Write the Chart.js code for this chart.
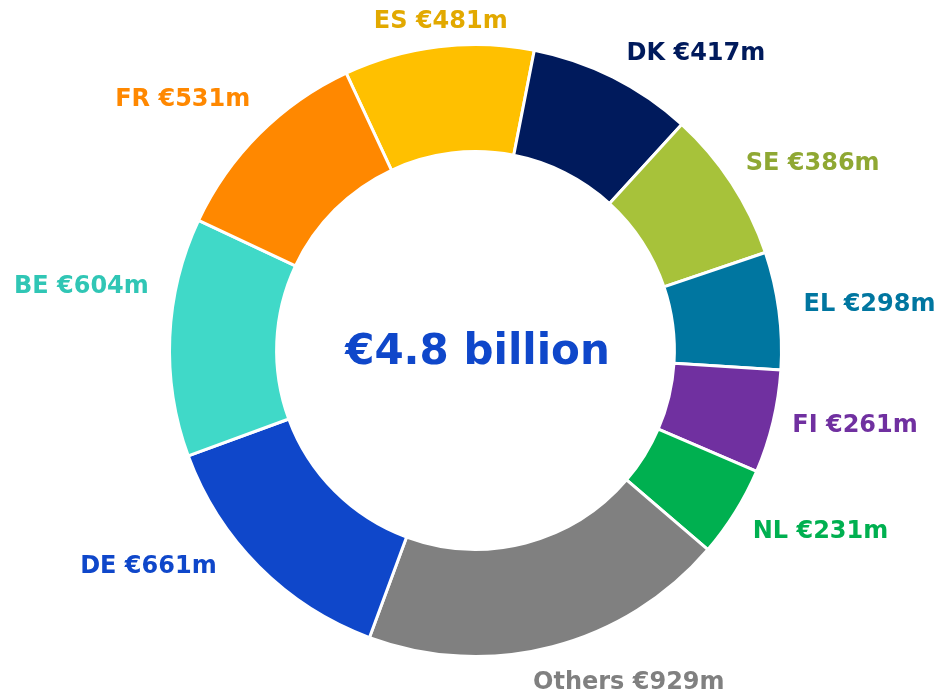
<!DOCTYPE html>
<html>
<head>
<meta charset="utf-8">
<script src="https://cdn.jsdelivr.net/npm/chart.js@4"></script>
<style>
  html, body { margin: 0; padding: 0; background: #fff; }
  #wrap { width: 942px; height: 693px; }
</style>
</head>
<body>
<div id="wrap"><canvas id="donut"></canvas></div>
<script>
// country codes and amounts in € million
const countries = ["ES", "DK", "SE", "EL", "FI", "NL", "Others", "DE", "BE", "FR"];
const amounts = [481, 417, 386, 298, 261, 231, 929, 661, 604, 531];
const centreLabel = "€4.8 billion";

const sliceColors = ["#FFC000", "#001A5C", "#A7C23A", "#0076A0", "#7030A0", "#00B050", "#808080", "#0F47CA", "#40D9C8", "#FF8800"];
const textColors = ["#E2A900", "#001A5C", "#8FA833", "#0076A0", "#7030A0", "#00B050", "#808080", "#0F47CA", "#30C6B5", "#FF8800"];

// draws the country labels outside the ring and the total in the middle
const outsideLabels = {
  id: "outsideLabels",
  afterDraw(chart, args, opts) {
    const ctx = chart.ctx;
    const meta = chart.getDatasetMeta(0);
    ctx.save();
    ctx.font = "bold 24px 'DejaVu Sans'";
    ctx.textBaseline = "middle";
    meta.data.forEach((arc, i) => {
      const mid = (arc.startAngle + arc.endAngle) / 2;
      const r = arc.outerRadius + opts.gap;
      let x = arc.x + Math.cos(mid) * r;
      let y = arc.y + Math.sin(mid) * r + 3;
      const nudge = opts.nudge[i] || [0, 0];
      x += nudge[0];
      y += nudge[1];
      const cos = Math.cos(mid);
      if (Math.abs(cos) < 0.15 && Math.sin(mid) < 0) ctx.textAlign = "center";
      else ctx.textAlign = cos >= 0 ? "left" : "right";
      ctx.fillStyle = textColors[i];
      ctx.fillText(countries[i] + " €" + amounts[i] + "m", x, y);
    });
    const a = meta.data[0];
    ctx.font = "bold 42px 'DejaVu Sans'";
    ctx.textAlign = "center";
    ctx.fillStyle = "#0F47CA";
    ctx.fillText(centreLabel, a.x + 2, a.y + 3);
    ctx.restore();
  }
};

new Chart(document.getElementById("donut"), {
  type: "doughnut",
  data: {
    labels: countries,
    datasets: [
      {
        data: amounts,
        backgroundColor: sliceColors,
        borderColor: "#ffffff",
        borderWidth: 3,
        hoverOffset: 0,
      },
    ],
  },
  options: {
    responsive: true,
    maintainAspectRatio: false,
    animation: false,
    rotation: -25,
    cutout: "65%",
    layout: { padding: { left: 168, right: 159, top: 43, bottom: 35 } },
    plugins: {
      legend: { display: false },
      tooltip: { enabled: false },
      outsideLabels: {
        gap: 30,
        nudge: [
          [6, 2], [0, 0], [-11, -6], [-5, -5], [-10, -6],
          [-8, 1], [-27, 4], [-21, -24], [9, -52], [12, -16]
        ],
      },
    },
  },
  plugins: [outsideLabels],
});
</script>
</body>
</html>
